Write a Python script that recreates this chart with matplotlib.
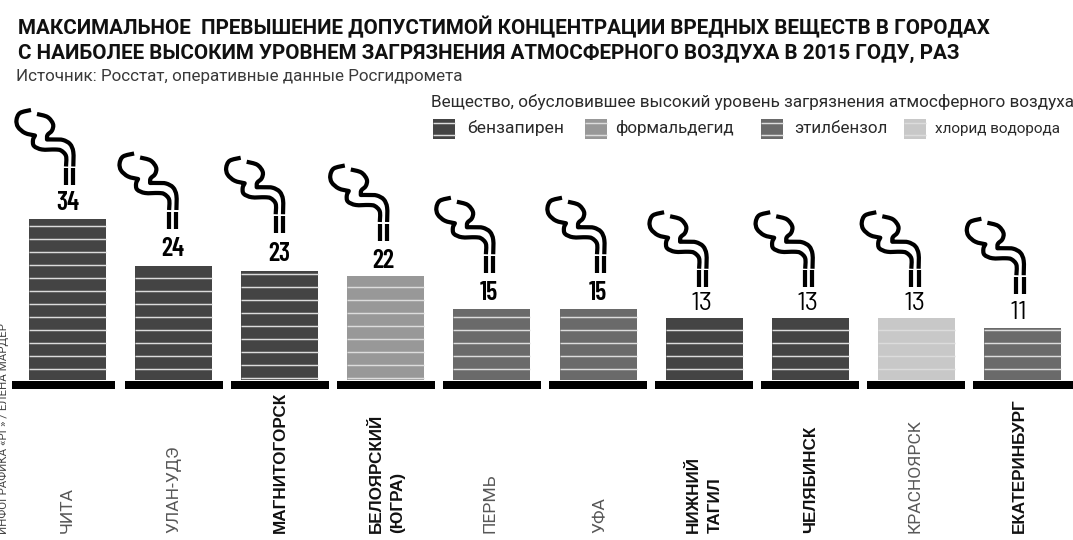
import matplotlib
matplotlib.use("Agg")
import logging
logging.getLogger("matplotlib.font_manager").setLevel(logging.ERROR)
import matplotlib.pyplot as plt
from matplotlib.path import Path
from matplotlib.patches import PathPatch, Rectangle
from matplotlib.transforms import Affine2D
import numpy as np

# ---------- data ----------
cities = ["ЧИТА", "УЛАН-УДЭ", "МАГНИТОГОРСК", "БЕЛОЯРСКИЙ\n(ЮГРА)", "ПЕРМЬ", "УФА",
          "НИЖНИЙ\nТАГИЛ", "ЧЕЛЯБИНСК", "КРАСНОЯРСК", "ЕКАТЕРИНБУРГ"]
values = [34, 24, 23, 22, 15, 15, 13, 13, 13, 11]
substance = ["бензапирен", "бензапирен", "бензапирен", "формальдегид", "этилбензол",
             "этилбензол", "бензапирен", "бензапирен", "хлорид водорода", "этилбензол"]
substances = ["бензапирен", "формальдегид", "этилбензол", "хлорид водорода"]
bold_label = [False, False, True, True, False, False, True, True, False, True]
title_lines = ["МАКСИМАЛЬНОЕ  ПРЕВЫШЕНИЕ ДОПУСТИМОЙ КОНЦЕНТРАЦИИ ВРЕДНЫХ ВЕЩЕСТВ В ГОРОДАХ",
               "С НАИБОЛЕЕ ВЫСОКИМ УРОВНЕМ ЗАГРЯЗНЕНИЯ АТМОСФЕРНОГО ВОЗДУХА В 2015 ГОДУ, РАЗ"]
source = "Источник: Росстат, оперативные данные Росгидромета"
legend_title = "Вещество, обусловившее высокий уровень загрязнения атмосферного воздуха"
credit = "ИНФОГРАФИКА «РГ» / ЕЛЕНА МАРДЕР"

# ---------- style ----------
W, H = 1073, 540
colors = {"бензапирен": "#444444", "формальдегид": "#989898",
          "этилбензол": "#6a6a6a", "хлорид водорода": "#c8c8c8"}
x0, dx, y0, dy = 67.5, 106.1, 380.0, 4.75
line_phase = [11, 11, 2, 2, 11, 11, 11, 11, 11, 11]
num_dx = [0, -1, 0, -3, -3, 0, -3, -3, -2, -4]
num_gap = [8.5, 10, 10, 8, 9, 9, 8, 8, 8, 9]
num_bold = [True] * 6 + [False] * 4
icon_dx = [2, -1, -0.5, -2.5, -2.5, 2.5, -1.5, -1.5, -1.5, -2.5]
icon_lift = [33.5, 37.5, 38, 35, 36, 36, 31, 31, 31, 34]
label_px = [65, 172, 278, 385, 488, 598, 702.5, 809, 913, 1017]

fig = plt.figure(figsize=(W / 100, H / 100), dpi=100, facecolor="white")
ax = fig.add_axes([0, 0, 1, 1])
ax.set_xlim(-x0 / dx, (W - x0) / dx)
ax.set_ylim((y0 - H) / dy, y0 / dy)
ax.axis("off")
fig.canvas.draw()

def P(px, py):
    return px / W, 1 - py / H

def T(px, py, s, size, **kw):
    x, y = P(px, py)
    return fig.text(x, y, s, fontsize=size * 0.72, **kw)

xs = np.arange(len(values))
bar_w = 77 / dx
ax.bar(xs, values, width=bar_w, color=[colors[s] for s in substance], linewidth=0, zorder=2)

# slab lines
for i, v in enumerate(values):
    p = line_phase[i]
    while p / dy < v:
        ax.plot([i - bar_w / 2, i + bar_w / 2], [p / dy, p / dy], color="#dcdcdc",
                lw=1.05, solid_capstyle="butt", zorder=3)
        p += 13

# base plates
base_w = 98 / dx
for i in xs:
    left = i - base_w / 2
    w = base_w
    if i == 0:
        left, w = (12 - x0) / dx, 103 / dx
    if i == len(values) - 1:
        w = base_w + 3 / dx
    ax.add_patch(Rectangle((left, -9 / dy), w, 8 / dy, facecolor="black", lw=0, zorder=3))

# smoke icon, local pixels, origin at chimney bottom centre, y up
def loc(lst):
    return [(x - 69.5, 185 - y) for x, y in lst]

def spline(*segments):
    """Catmull-Rom through the given points; each segment is joined with a corner."""
    verts, codes = [], []
    for seg in segments:
        c = np.array(loc(seg), float)
        if not verts:
            verts.append(c[0]); codes.append(Path.MOVETO)
        for k in range(len(c) - 1):
            p0 = c[max(k - 1, 0)]; p1 = c[k]; p2 = c[k + 1]; p3 = c[min(k + 2, len(c) - 1)]
            verts += [p1 + (p2 - p0) / 6, p2 - (p3 - p1) / 6, p2]
            codes += [Path.CURVE4] * 3
    return Path(verts, codes)

chimney = Path(loc([(66, 185), (66, 168.2), (73.3, 185), (73.3, 168.2)]),
               [Path.MOVETO, Path.LINETO, Path.MOVETO, Path.LINETO])
right = spline([(73.3, 166.5), (73.3, 152), (70, 144), (63, 140), (55, 139.5), (47, 139.5)],
               [(47, 139.5), (47.5, 135), (52, 130.5), (53, 124), (47.5, 117), (37, 114)])
left = spline([(66, 166.5), (66, 156), (61, 150.5), (55, 149.5), (42, 149.5), (34, 146), (33, 140), (35, 135.5)],
              [(35, 135.5), (25, 133), (18, 127), (16.5, 120), (20, 113), (31, 110)])

for i, v in enumerate(values):
    cx, cy = ax.transData.transform((i, v))
    tr = Affine2D().translate(cx + icon_dx[i], cy + icon_lift[i])
    for path in (chimney, right, left):
        ax.add_patch(PathPatch(path, fill=False, edgecolor="black", lw=4.2 * 0.72,
                               capstyle="butt", joinstyle="round", transform=tr, zorder=4))
    fam = ["Barlow Condensed", "Saira Condensed", "Archivo Narrow", "Liberation Sans"] if num_bold[i] \
        else ["Barlow", "Saira SemiCondensed", "Archivo Narrow", "Liberation Sans"]
    ax.annotate(str(v), (i, v), xytext=(num_dx[i] * 0.72, num_gap[i] * 0.72),
                textcoords="offset points", ha="center", va="baseline",
                fontsize=(26 if num_bold[i] else 25.5) * 0.72, color="black", family=fam,
                fontweight=600 if num_bold[i] else 400, zorder=5)

# city labels
for i, name in enumerate(cities):
    lines = name.split("\n")
    for j, line in enumerate(lines):
        lx = label_px[i] + 21.5 * (j - (len(lines) - 1) / 2) + 6.5
        kw = dict(rotation=90, rotation_mode="anchor", ha="left", va="baseline")
        if bold_label[i]:
            T(lx, 533, line, 17.1, family="Liberation Sans", fontweight="bold", color="#111111", **kw)
        else:
            T(lx, 533, line, 17.5, family="Roboto", fontweight="normal", color="#585858", **kw)

# title block
T(18, 34, title_lines[0], 20.7, family="Roboto", fontweight="bold", color="#111111", va="baseline")
T(18, 59, title_lines[1], 20.7, family="Roboto", fontweight="bold", color="#111111", va="baseline")
T(16, 81.5, source, 17, family="Roboto", color="#3a3a3a", va="baseline")
T(431, 107, legend_title, 17.1, family="Roboto", color="#2a2a2a", va="baseline")

# legend
sw_px = [433, 585, 761, 904]
tx_px = [467, 615, 794, 935]
tx_size = [17.5, 17, 17, 15.3]
for s, sx, tx, ts in zip(substances, sw_px, tx_px, tx_size):
    x, y = P(sx, 139)
    fig.add_artist(Rectangle((x, y), 22 / W, 20 / H, transform=fig.transFigure,
                             facecolor=colors[s], lw=0))
    for ly in (122.5, 134.5):
        xa, ya = P(sx, ly)
        fig.add_artist(plt.Line2D([xa, xa + 22 / W], [ya, ya], color="#dcdcdc", lw=1.05,
                                  solid_capstyle="butt", transform=fig.transFigure))
    T(tx, 133, s, ts, family="Roboto", color="#2a2a2a", va="baseline")

# credit
T(3.5, 534, credit, 11.5, family="Roboto", color="#444444", rotation=90, ha="center", va="bottom")

fig.savefig("out.png", dpi=100, facecolor="white")
